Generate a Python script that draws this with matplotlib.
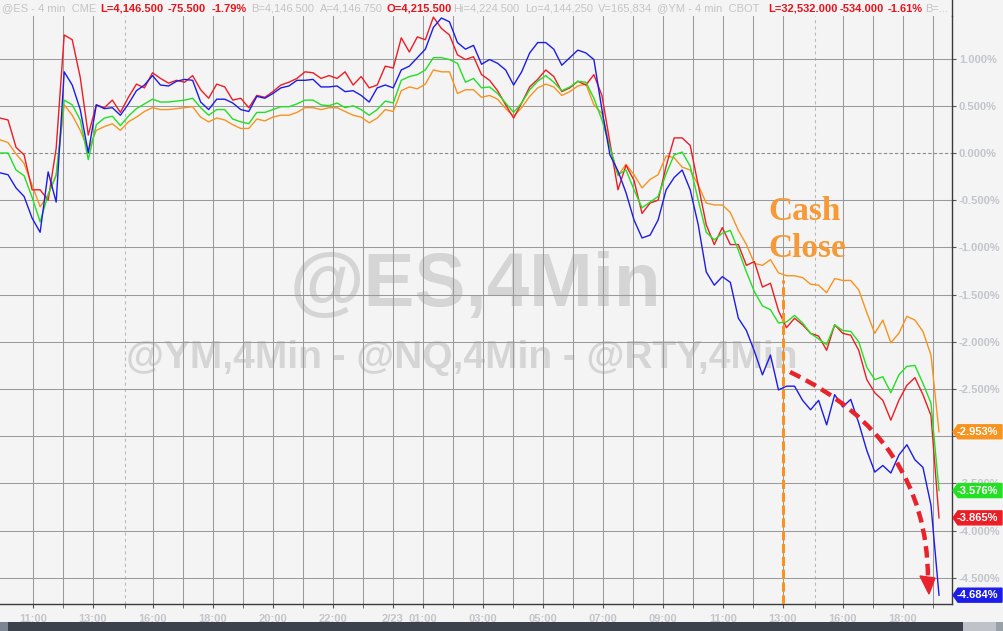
import numpy as np
import matplotlib
matplotlib.use("Agg")
import matplotlib.pyplot as plt
from matplotlib.patches import Polygon, Rectangle, PathPatch
from matplotlib.path import Path
from matplotlib.lines import Line2D
from matplotlib.transforms import Affine2D

plt.rcParams['font.family'] = ['Liberation Sans', 'DejaVu Sans']

# ---------------- data (percent change, 4-min bars) ----------------
nq = [-0.21, -0.23, -0.37, -0.46, -0.69, -0.84, -0.20, -0.52, 0.86, 0.72,
      0.46, 0.00, 0.51, 0.47, 0.48, 0.40, 0.52, 0.66, 0.72, 0.82,
      0.72, 0.71, 0.76, 0.78, 0.77, 0.54, 0.46, 0.57, 0.57, 0.53,
      0.46, 0.44, 0.60, 0.58, 0.63, 0.69, 0.71, 0.77, 0.77, 0.78,
      0.70, 0.70, 0.71, 0.65, 0.66, 0.61, 0.54, 0.69, 0.72, 0.69,
      0.88, 0.92, 1.01, 1.10, 1.33, 1.43, 1.39, 1.17, 1.10, 1.14,
      0.94, 0.99, 0.95, 0.88, 0.72, 0.86, 1.06, 1.17, 1.17, 1.10,
      0.93, 1.01, 1.09, 1.06, 0.99, 0.46, -0.02, -0.19, -0.42, -0.71,
      -0.90, -0.87, -0.71, -0.39, -0.26, -0.18, -0.39, -0.76, -1.26, -1.40,
      -1.31, -1.37, -1.75, -1.88, -2.10, -2.35, -2.14, -2.51, -2.47, -2.47,
      -2.62, -2.72, -2.62, -2.88, -2.56, -2.69, -2.61, -2.86, -3.15, -3.38,
      -3.31, -3.39, -3.20, -3.09, -3.25, -3.33, -3.73, -4.684]

rty = [0.37, 0.35, 0.06, -0.02, -0.39, -0.39, -0.50, 0.05, 1.25, 1.20,
       0.80, 0.19, 0.51, 0.48, 0.56, 0.43, 0.59, 0.73, 0.69, 0.85,
       0.79, 0.74, 0.77, 0.75, 0.82, 0.67, 0.58, 0.73, 0.70, 0.56,
       0.58, 0.48, 0.61, 0.59, 0.65, 0.72, 0.75, 0.79, 0.86, 0.85,
       0.79, 0.82, 0.79, 0.86, 0.72, 0.81, 0.69, 0.72, 0.92, 0.90,
       1.22, 1.07, 1.23, 1.20, 1.44, 1.32, 1.25, 1.04, 0.99, 1.02,
       0.83, 0.77, 0.66, 0.51, 0.37, 0.53, 0.70, 0.78, 0.88, 0.81,
       0.65, 0.69, 0.76, 0.72, 0.83, 0.61, 0.11, -0.39, -0.13, -0.29,
       -0.64, -0.53, -0.50, -0.14, 0.16, 0.16, 0.08, -0.34, -0.76, -0.97,
       -0.79, -0.97, -0.97, -1.19, -1.15, -1.42, -1.38, -1.67, -1.85, -1.75,
       -1.82, -1.91, -1.94, -2.09, -1.82, -1.91, -1.93, -2.09, -2.40, -2.54,
       -2.62, -2.83, -2.62, -2.46, -2.38, -2.56, -2.78, -3.865]

es = [0.00, 0.00, -0.18, -0.24, -0.47, -0.73, -0.44, -0.23, 0.56, 0.51,
      0.35, -0.07, 0.30, 0.37, 0.39, 0.29, 0.39, 0.47, 0.52, 0.57,
      0.54, 0.54, 0.55, 0.56, 0.58, 0.48, 0.40, 0.46, 0.46, 0.36,
      0.33, 0.31, 0.43, 0.43, 0.46, 0.49, 0.49, 0.52, 0.56, 0.56,
      0.51, 0.50, 0.53, 0.48, 0.50, 0.46, 0.40, 0.46, 0.55, 0.53,
      0.77, 0.81, 0.83, 0.88, 1.01, 1.01, 0.99, 0.95, 0.75, 0.79,
      0.69, 0.70, 0.63, 0.53, 0.43, 0.53, 0.67, 0.76, 0.82, 0.75,
      0.66, 0.70, 0.76, 0.75, 0.58, 0.35, 0.06, -0.23, -0.18, -0.39,
      -0.58, -0.52, -0.46, -0.22, -0.02, 0.01, -0.14, -0.50, -0.84, -0.92,
      -0.85, -0.82, -1.03, -1.26, -1.47, -1.62, -1.66, -1.80, -1.79, -1.72,
      -1.80, -1.91, -1.97, -2.03, -1.82, -1.88, -1.89, -2.00, -2.27, -2.40,
      -2.37, -2.54, -2.35, -2.26, -2.25, -2.44, -2.65, -3.576]

ym = [0.14, 0.11, -0.01, -0.11, -0.34, -0.57, -0.44, -0.24, 0.51, 0.40,
      0.24, 0.03, 0.24, 0.28, 0.31, 0.24, 0.33, 0.38, 0.44, 0.48,
      0.46, 0.46, 0.47, 0.48, 0.49, 0.38, 0.33, 0.37, 0.35, 0.30,
      0.26, 0.26, 0.36, 0.34, 0.38, 0.40, 0.40, 0.43, 0.48, 0.48,
      0.46, 0.48, 0.48, 0.44, 0.40, 0.38, 0.32, 0.37, 0.46, 0.44,
      0.66, 0.70, 0.68, 0.73, 0.88, 0.86, 0.86, 0.63, 0.67, 0.67,
      0.59, 0.61, 0.57, 0.47, 0.39, 0.48, 0.60, 0.69, 0.73, 0.70,
      0.61, 0.65, 0.71, 0.73, 0.51, 0.42, 0.07, -0.24, -0.12, -0.23,
      -0.37, -0.28, -0.23, -0.03, -0.05, -0.15, -0.18, -0.34, -0.53, -0.55,
      -0.55, -0.63, -0.82, -0.97, -1.17, -1.19, -1.13, -1.27, -1.30, -1.30,
      -1.32, -1.39, -1.40, -1.48, -1.33, -1.35, -1.35, -1.45, -1.69, -1.91,
      -1.77, -2.01, -1.91, -1.73, -1.77, -1.89, -2.14, -2.953]

ytick_vals = [1.0, 0.5, 0.0, -0.5, -1.0, -1.5, -2.0, -2.5, -3.0, -3.5, -4.0, -4.5]
xtick_labels = ['11:00', '13:00', '16:00', '18:00', '20:00', '22:00', '2/23', '01:00',
                '03:00', '05:00', '07:00', '09:00', '11:00', '13:00', '16:00', '18:00']

header = [
    ("@ES - 4 min  CME", 'g'), ("L=4,146.500", 'r'), ("-75.500", 'r'), ("-1.79%", 'r'),
    ("B=4,146.500", 'g'), ("A=4,146.750", 'g'), ("O=4,215.500", 'r'),
    ("Hi=4,224.500", 'g'), ("Lo=4,144,250", 'g'), ("V=165,834", 'g'),
    ("@YM - 4 min  CBOT", 'g'), ("L=32,532.000", 'r'), ("-534.000", 'r'),
    ("-1.61%", 'r'), ("B=...", 'g'),
]

# ---------------- layout ----------------
W, H = 1004, 631
BG = '#f4f4f4'
fig = plt.figure(figsize=(W / 100, H / 100), dpi=100)
fig.patch.set_facecolor(BG)
PX = Affine2D().scale(1.0 / W, -1.0 / H).translate(0, 1) + fig.transFigure

AX_R, AX_T, AX_B = 952, 16, 604
ax = fig.add_axes([0, 1 - AX_B / H, AX_R / W, (AX_B - AX_T) / H])
ax.set_facecolor(BG)
X_END = 939
ax.set_xlim(0, AX_R)
ax.set_ylim(-4.7775, 1.4513)

grid_x = [3 + 30 * k for k in range(1, 32) if k not in (4, 27)]
session_x = [125, 815]
tick_pos = [33, 93, 153, 213, 273, 333, 393, 423, 483, 543, 603, 663, 723, 783, 843, 903]

GRID = '#9a9a9a'
for gx in grid_x:
    ax.axvline(gx, color=GRID, lw=0.75, zorder=1)
for sx in session_x:
    ax.axvline(sx, color='#b8b8b8', lw=0.75, ls=(0, (3, 3)), zorder=1)
for v in ytick_vals:
    if v == 0:
        ax.axhline(v, color='#8a8a8a', lw=0.8, ls=(0, (3, 2)), zorder=1)
    else:
        ax.axhline(v, color=GRID, lw=0.75, zorder=1)

for s in ['top', 'left']:
    ax.spines[s].set_visible(False)
for s in ['right', 'bottom']:
    ax.spines[s].set_color('#3a3a3a')
    ax.spines[s].set_linewidth(1.0)

LBL = '#c2c5ca'
ax.set_xticks(tick_pos)
ax.set_xticklabels(xtick_labels)
ax.set_xticks(grid_x + session_x, minor=True)
ax.tick_params(axis='x', which='both', length=3, color='#555555', pad=4,
               labelsize=8, labelcolor=LBL)
for t in ax.get_xticklabels():
    t.set_fontweight('bold')

ax.yaxis.tick_right()
ax.set_yticks(ytick_vals)
# the -3.000% label sits fully behind the last-value box in the reference
ax.set_yticklabels(["" if v == -3.0 else f"{v:.3f}%" for v in ytick_vals])
ax.tick_params(axis='y', length=3, color='#555555', pad=2, labelsize=8, labelcolor=LBL)
for t in ax.get_yticklabels():
    t.set_fontweight('bold')

# right axis line continues through header
fig.add_artist(Line2D([AX_R, AX_R], [0, AX_T], color='#3a3a3a', lw=1.0, transform=PX))

# watermarks
ax.text(475, 287, "@ES,4Min", transform=PX, ha='center', va='center', fontsize=55,
        fontweight='bold', color='#d5d5d5', zorder=0.5, clip_on=False)
ax.text(462, 358, "@YM,4Min - @NQ,4Min - @RTY,4Min", transform=PX, ha='center',
        va='center', fontsize=28, fontweight='bold', color='#d5d5d5', zorder=0.5,
        clip_on=False)

# series
series = [(ym, '#f7931e'), (rty, '#ee1c24'), (es, '#22e022'), (nq, '#1c1ce8')]
for vals, c in series:
    x = np.linspace(0, X_END, len(vals))
    ax.plot(x, vals, color=c, lw=1.0, zorder=3)

# cash close marker
ax.axvline(783, ymin=0, ymax=(AX_B - 280) / (AX_B - AX_T), color='#f7931e', lw=2.2,
           ls=(0, (3, 1.2)), zorder=4)
fig.text(768 / W, 1 - 220 / H, "Cash", fontsize=24, fontweight='bold', color='#f59a36',
         family='Liberation Serif', va='baseline', ha='left')
fig.text(768 / W, 1 - 257 / H, "Close", fontsize=24, fontweight='bold', color='#f59a36',
         family='Liberation Serif', va='baseline', ha='left')

# red dashed curved arrow
curve = Path([(790, 372), (927, 438), (928, 578)], [Path.MOVETO, Path.CURVE3, Path.CURVE3])
fig.add_artist(PathPatch(curve, facecolor='none', edgecolor='#e8232b', lw=3.2,
                         ls=(0, (2.6, 1.4)), transform=PX, zorder=5))
fig.add_artist(Polygon([(920, 576), (935, 578), (929, 594)], closed=True,
                       facecolor='#e8232b', edgecolor='#e8232b', transform=PX, zorder=5))

# last value boxes
fig.canvas.draw()
for vals, c in series:
    last = vals[-1]
    py = H - ax.transData.transform((0, last))[1]
    fig.add_artist(Polygon([(953, py), (958, py - 7), (1002, py - 7), (1002, py + 7), (958, py + 7)],
                           closed=True, facecolor=c, edgecolor=c, transform=PX, zorder=6))
    fig.text(957 / W, 1 - py / H, f"{last:.3f}%", color='white', fontsize=8, fontweight='bold',
             va='center', ha='left', zorder=7)

# header
hx = [2, 100, 168, 212, 251, 320, 387, 453, 525, 598, 657, 768, 840, 888, 925]
for (txt, kind), x0 in zip(header, hx):
    if kind == 'r':
        fig.text(x0 / W, 1 - 8.5 / H, txt, color='#e8141c', fontsize=8, fontweight='bold',
                 va='center', ha='left')
    else:
        fig.text(x0 / W, 1 - 8.5 / H, txt, color='#c4c4c4', fontsize=8, va='center', ha='left')

# bottom scroll bar
fig.add_artist(Rectangle((0, 622), W, 9, facecolor='#3b424b', edgecolor='none', transform=PX))
fig.add_artist(Rectangle((0, 622), 8, 9, facecolor='#7b8593', edgecolor='none', transform=PX))
fig.add_artist(Rectangle((963, 622), 33, 9, facecolor='#bfc3c9', edgecolor='none', transform=PX))
fig.add_artist(Rectangle((996, 622), 8, 9, facecolor='#9aa0a8', edgecolor='none', transform=PX))

fig.savefig('out.png', dpi=100, facecolor=BG)
